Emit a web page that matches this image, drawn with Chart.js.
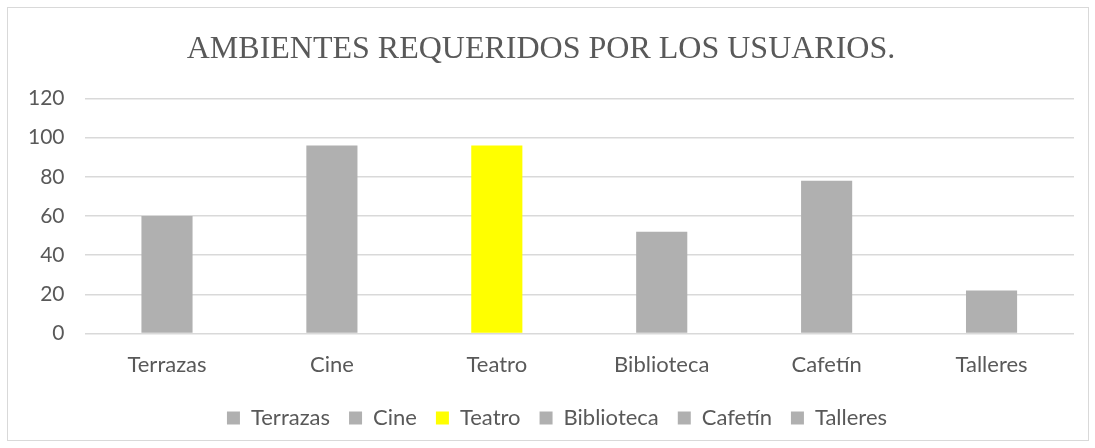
<!DOCTYPE html>
<html>
<head>
<meta charset="utf-8">
<script src="https://cdn.jsdelivr.net/npm/chart.js@4.4.1/dist/chart.umd.min.js"></script>
<style>
  html, body { margin: 0; padding: 0; background: #fff; }
  #frame {
    position: absolute; left: 7px; top: 7px;
    width: 1080px; height: 432px;
    border: 1px solid #d9d9d9;
  }
  #chart { display: block; }
</style>
</head>
<body>
<div id="frame"><canvas id="chart" width="1080" height="432"></canvas></div>
<script>
// Ambientes pedidos por los usuarios
const categories = ['Terrazas', 'Cine', 'Teatro', 'Biblioteca', 'Cafetín', 'Talleres'];
const values = [60, 96, 96, 52, 78, 22];
const yTicks = [0, 20, 40, 60, 80, 100, 120];

// one colour per bar, Teatro highlighted
const barColors = ['#b0b0b0', '#b0b0b0', '#ffff00', '#b0b0b0', '#b0b0b0', '#b0b0b0'];
const textColor = '#595959';
const gridColor = '#d9d9d9';
const bodyFont = 'Lato, "Open Sans", sans-serif';

// nudge the legend row a little to the right, centred under the plot
const legendShift = {
  id: 'legendShift',
  afterLayout(chart) {
    chart.legend.left += 16;
    chart.legend.right += 16;
  }
};

const ctx = document.getElementById('chart').getContext('2d');
const chart = new Chart(ctx, {
  type: 'bar',
  data: {
    labels: categories,
    datasets: [{
      data: values,
      backgroundColor: barColors,
      borderWidth: 0,
      categoryPercentage: 1,
      barPercentage: 0.31
    }]
  },
  plugins: [legendShift],
  options: {
    responsive: false,
    animation: false,
    layout: { padding: { left: 0, right: 14, top: 0, bottom: 1 } },
    plugins: {
      tooltip: { enabled: false },
      title: {
        display: true,
        text: 'AMBIENTES REQUERIDOS POR LOS USUARIOS.',
        color: textColor,
        font: { family: '"Liberation Serif", "Times New Roman", serif', size: 32, weight: 'normal' },
        padding: { top: 22, bottom: 30 }
      },
      legend: {
        position: 'bottom',
        onClick: null,
        labels: {
          color: textColor,
          font: { family: bodyFont, size: 22 },
          boxWidth: 13,
          boxHeight: 13,
          padding: 19,
          // legend shows each category with its bar colour
          generateLabels: function (c) {
            return categories.map((name, i) => ({
              text: name,
              fillStyle: barColors[i],
              strokeStyle: barColors[i],
              lineWidth: 0,
              fontColor: textColor,
              hidden: false,
              index: i
            }));
          }
        }
      }
    },
    scales: {
      x: {
        grid: { display: false },
        border: { display: false },
        ticks: { color: textColor, font: { family: bodyFont, size: 22 }, padding: 10 }
      },
      y: {
        min: 0,
        max: 120,
        afterBuildTicks: axis => { axis.ticks = yTicks.map(v => ({ value: v })); },
        grid: { color: gridColor, lineWidth: 1.5, drawTicks: false },
        border: { display: false },
        ticks: { color: textColor, font: { family: bodyFont, size: 21 }, padding: 20 }
      }
    }
  }
});
</script>
</body>
</html>
